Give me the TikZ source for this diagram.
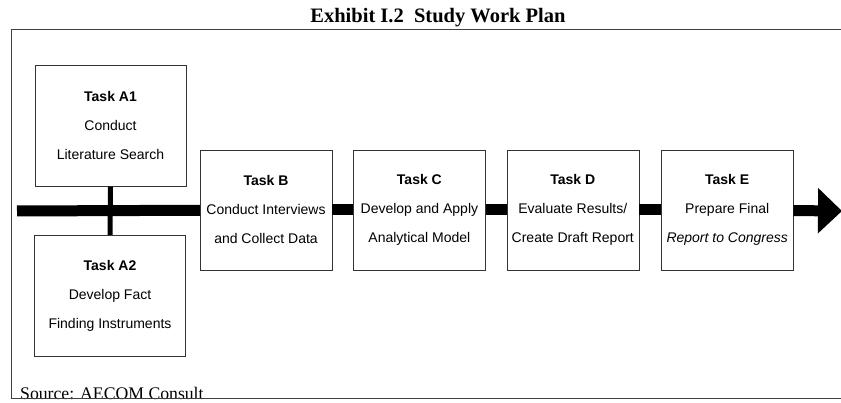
\documentclass[tikz,border=0pt]{standalone}
\usepackage{fontspec}
\setmainfont{Liberation Serif}
\newfontfamily\boxfont{Liberation Sans}
\usetikzlibrary{arrows.meta,positioning}
\tikzset{
  task/.style  = {draw=black!80, thin, fill=white, align=center,
                  minimum width=132pt, minimum height=120pt, inner sep=0pt,
                  font=\boxfont\fontsize{14}{29}\selectfont},
  taskA/.style = {task, minimum width=151pt, minimum height=121pt},
  flow/.style  = {line width=11pt},
  link/.style  = {line width=5pt},
  frame/.style = {draw=black!75, thin}
}

\begin{document}
\begin{tikzpicture}[x=1pt, y=1pt]
    \useasboundingbox (0,0) rectangle (841,403);
    % frame and captions
    \node[anchor=base west, inner sep=0pt, font=\fontsize{17.7}{20}\selectfont] (source) at (20,3) {Source: AECOM Consult};
    \draw[frame] (845,374) -- (11,374) -- (11,5) -- (845,5);
    \node[anchor=base, font=\fontsize{20.5}{24}\selectfont\bfseries] (title) at (438,380) {Exhibit I.2\ \ Study Work Plan};
    % tasks
    \coordinate (start) at (17,192);
    \coordinate (tip)   at (842,192);
    \node[taskA] (A1) at (110.5,277) {\textbf{Task A1}\\Conduct\\Literature Search};
    \node[taskA] (A2) at (110,107.5) {\textbf{Task A2}\\Develop Fact\\Finding Instruments}
    edge [link] (A1);
    \node[task] (B) at (266,193) {\textbf{Task B}\\Conduct Interviews\\and Collect Data};
    \draw[flow] (start) -- (B);
    \node[task] (C) [right=21pt of B] {\textbf{Task C}\\Develop and Apply\\Analytical Model}
    edge [flow] (B);
    \node[task] (D) [right=21pt of C] {\textbf{Task D}\\Evaluate Results/\\Create Draft Report}
    edge [flow] (C);
    \node[task] (E) [right=22pt of D] {\textbf{Task E}\\Prepare Final\\\textit{Report to Congress}}
    edge [flow] (D);
    \draw[flow, -{Triangle[length=24pt, width=44pt]}] (E) -- (tip);
\end{tikzpicture}
\end{document}
